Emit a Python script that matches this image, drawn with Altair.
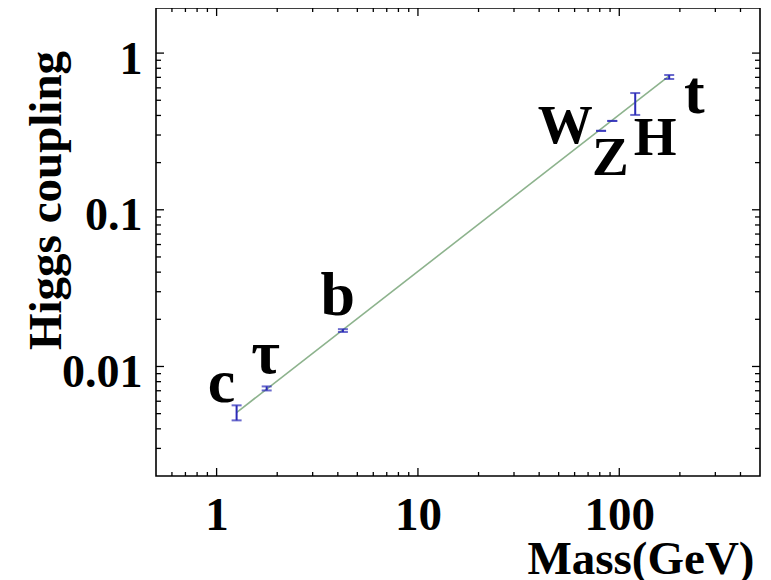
import altair as alt
import pandas as pd

# ---- data ----
particles = ["c", "τ", "b", "W", "Z", "H", "t"]
mass = [1.257, 1.773, 4.24, 81.2, 92.3, 120.0, 177.0]
coupling = [0.00509, 0.00724, 0.01695, 0.319, 0.369, 0.473, 0.703]
coupling_lo = [0.00453, 0.00703, 0.0166, 0.319, 0.369, 0.403, 0.683]
coupling_hi = [0.00565, 0.00746, 0.0173, 0.319, 0.369, 0.556, 0.724]

label_text = ["c", "τ", "b", "W", "Z", "H", "t"]
label_mass = [1.059, 1.75, 4.0, 53.9, 90.2, 150.6, 236.0]
label_coupling = [0.0059, 0.00902, 0.0214, 0.267, 0.167, 0.224, 0.415]

fit_mass = [1.26, 177.0]
fit_coupling = [0.0051, 0.715]

x_major_ticks = [1, 10, 100]
x_minor_ticks = [0.6, 0.7, 0.8, 0.9, 2, 3, 4, 5, 6, 7, 8, 9,
                 20, 30, 40, 50, 60, 70, 80, 90, 200, 300, 400]
y_major_ticks = [0.01, 0.1, 1]
y_minor_ticks = [0.003, 0.004, 0.005, 0.006, 0.007, 0.008, 0.009,
                 0.02, 0.03, 0.04, 0.05, 0.06, 0.07, 0.08, 0.09,
                 0.2, 0.3, 0.4, 0.5, 0.6, 0.7, 0.8, 0.9]

W, H = 604, 468
FONT = "Liberation Serif"
BLUE = "#2b2bb8"

pts = pd.DataFrame({"p": particles, "mass": mass, "c": coupling,
                    "lo": coupling_lo, "hi": coupling_hi})
labs = pd.DataFrame({"t": label_text, "m": label_mass, "g": label_coupling,
                     "upper": [s.isupper() for s in label_text]})
fit = pd.DataFrame({"m": fit_mass, "g": fit_coupling})
xmaj = pd.DataFrame({"v": x_major_ticks})
xmin = pd.DataFrame({"v": x_minor_ticks})
ymaj = pd.DataFrame({"v": y_major_ticks})
ymin = pd.DataFrame({"v": y_minor_ticks})

xs = alt.Scale(type="log", domain=[0.5, 500], nice=False)
ys = alt.Scale(type="log", domain=[0.002, 1.94], nice=False)

x_axis = alt.Axis(values=x_major_ticks, format="~g", ticks=False, domain=False, grid=False,
                  labelFont=FONT, labelFontWeight="bold", labelFontSize=47, labelColor="black",
                  labelPadding=16, labelFlush=False,
                  title="Mass(GeV)", titleFont=FONT, titleFontWeight="bold", titleFontSize=47,
                  titleColor="black", titleX=598, titleY=97, titleAlign="right",
                  titleBaseline="alphabetic")
y_axis = alt.Axis(values=y_major_ticks, format="~g", ticks=False, domain=False, grid=False,
                  labelFont=FONT, labelFontWeight="bold", labelFontSize=46, labelColor="black",
                  labelPadding=14, labelOffset=6, labelFlush=False,
                  title="Higgs coupling", titleFont=FONT, titleFontWeight="bold", titleFontSize=47,
                  titleColor="black", titleX=-96, titleY=192, titleAlign="center",
                  titleAngle=270, titleBaseline="alphabetic")

line = alt.Chart(fit).mark_line(color="#8db38d", strokeWidth=1.6).encode(
    x=alt.X("m:Q", scale=xs, axis=x_axis),
    y=alt.Y("g:Q", scale=ys, axis=y_axis),
)

bars = alt.Chart(pts).mark_rule(color=BLUE, strokeWidth=2).encode(
    x=alt.X("mass:Q", scale=xs, axis=None),
    y=alt.Y("lo:Q", scale=ys, axis=None),
    y2="hi:Q",
)
cap_lo = alt.Chart(pts).mark_tick(color=BLUE, orient="horizontal", size=10, thickness=2).encode(
    x=alt.X("mass:Q", scale=xs, axis=None),
    y=alt.Y("lo:Q", scale=ys, axis=None),
)
cap_hi = alt.Chart(pts).mark_tick(color=BLUE, orient="horizontal", size=10, thickness=2).encode(
    x=alt.X("mass:Q", scale=xs, axis=None),
    y=alt.Y("hi:Q", scale=ys, axis=None),
)

txt_lower = alt.Chart(labs).transform_filter("!datum.upper").mark_text(
    font=FONT, fontWeight="bold", fontSize=62, align="center", baseline="alphabetic", color="black"
).encode(
    x=alt.X("m:Q", scale=xs, axis=None),
    y=alt.Y("g:Q", scale=ys, axis=None),
    text="t:N",
)
txt_upper = alt.Chart(labs).transform_filter("datum.upper").mark_text(
    font=FONT, fontWeight="bold", fontSize=55, align="center", baseline="alphabetic", color="black"
).encode(
    x=alt.X("m:Q", scale=xs, axis=None),
    y=alt.Y("g:Q", scale=ys, axis=None),
    text="t:N",
)


def xticks(df, length):
    base = alt.Chart(df).mark_rule(color="black", strokeWidth=1.3)
    bottom = base.encode(x=alt.X("v:Q", scale=xs, axis=None),
                         y=alt.value(H), y2=alt.value(H - length))
    top = base.encode(x=alt.X("v:Q", scale=xs, axis=None),
                      y=alt.value(0), y2=alt.value(length))
    return [bottom, top]


def yticks(df, length):
    base = alt.Chart(df).mark_rule(color="black", strokeWidth=1.3)
    left = base.encode(y=alt.Y("v:Q", scale=ys, axis=None),
                       x=alt.value(0), x2=alt.value(length))
    right = base.encode(y=alt.Y("v:Q", scale=ys, axis=None),
                        x=alt.value(W), x2=alt.value(W - length))
    return [left, right]


tick_layers = xticks(xmaj, 8) + xticks(xmin, 4) + yticks(ymaj, 8) + yticks(ymin, 5)

chart = alt.layer(line, bars, cap_lo, cap_hi, txt_lower, txt_upper, *tick_layers).resolve_axis(
    x="independent", y="independent"
).properties(
    width=W, height=H,
    padding={"left": 148, "top": 0, "right": 3, "bottom": 104},
    autosize=alt.AutoSizeParams(type="none"),
    background="white",
).configure_view(stroke="black", strokeWidth=1.6)

chart.save("out.html", embed_options={"renderer": "svg", "actions": False})
